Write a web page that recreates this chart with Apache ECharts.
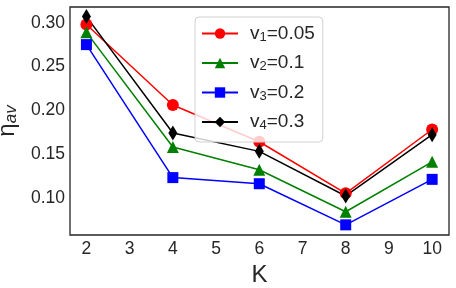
<!DOCTYPE html>
<html><head><meta charset="utf-8">
<script src="https://cdn.jsdelivr.net/npm/echarts@6/dist/echarts.min.js"></script>
<style>html,body{margin:0;padding:0;background:#fff}#c{width:456px;height:288px}</style>
</head><body><div id="c"></div>
<script>
const K = [2, 4, 6, 8, 10];
const v1 = [0.298, 0.206, 0.164, 0.105, 0.178];
const v2 = [0.289, 0.158, 0.132, 0.084, 0.141];
const v3 = [0.275, 0.123, 0.116, 0.069, 0.121];
const v4 = [0.307, 0.174, 0.153, 0.102, 0.172];
const xTicks = [2, 3, 4, 5, 6, 7, 8, 9, 10];
const yTicks = [0.10, 0.15, 0.20, 0.25, 0.30];
const names = ['v1', 'v2', 'v3', 'v4'];
const labels = {v1: ['1', '0.05'], v2: ['2', '0.1'], v3: ['3', '0.2'], v4: ['4', '0.3']};

const font = 'Liberation Sans, Arial, sans-serif';
const txt = '#262626';
function mk(name, data, color, symbol, size) {
  return {
    name, type: 'line', data: data.map((y, i) => [K[i], y]),
    symbol, symbolSize: size, showSymbol: true,
    lineStyle: {color, width: 1.5}, itemStyle: {color},
    emphasis: {disabled: true}, animation: false
  };
}
const chart = echarts.init(document.getElementById('c'));
chart.setOption({
  animation: false,
  grid: {left: 70, right: 7, top: 7, bottom: 53, outerBoundsMode: 'none', containLabel: false,
    show: true, borderColor: '#262626', borderWidth: 1.3, backgroundColor: '#fff'},
  xAxis: {
    type: 'value', min: 1.62, max: 10.39,
    name: 'K', nameLocation: 'middle', nameGap: 24,
    nameTextStyle: {fontSize: 24, color: txt, fontFamily: font},
    axisLine: {show: false}, axisTick: {show: false}, splitLine: {show: false},
    axisLabel: {customValues: xTicks, fontSize: 17.5, color: txt, fontFamily: font, margin: 5,
      showMinLabel: true, showMaxLabel: true}
  },
  yAxis: {
    type: 'value', min: 0.0574, max: 0.318,
    name: '{e|η}{s|av}', nameLocation: 'middle', nameGap: 44, nameRotate: 90,
    nameTextStyle: {color: txt, fontFamily: font,
      rich: {e: {fontSize: 24, color: txt, fontFamily: font},
             s: {fontSize: 17, fontStyle: 'italic', color: txt, fontFamily: font, padding: [8, 0, 0, 0]}}},
    axisLine: {show: false}, axisTick: {show: false}, splitLine: {show: false},
    axisLabel: {customValues: yTicks, fontSize: 17.5, color: txt, fontFamily: font, margin: 5,
      formatter: v => v.toFixed(2)}
  },
  legend: {
    orient: 'vertical', left: 195, top: 17, data: names,
    itemWidth: 36, itemHeight: 13, itemGap: 10,
    padding: [7, 8, 10, 6],
    backgroundColor: 'rgba(255,255,255,0.8)', borderColor: '#d0d0d0', borderWidth: 1, borderRadius: 4,
    formatter: n => '{a|v}{s|' + labels[n][0] + '}{a|=' + labels[n][1] + '}',
    textStyle: {color: txt, fontFamily: font, fontSize: 19, padding: [0, 0, 0, 7],
      rich: {a: {fontSize: 19, color: txt, fontFamily: font},
             s: {fontSize: 13, color: txt, fontFamily: font, padding: [7, 0, 0, 0]}}},
    selectedMode: false
  },
  series: [
    mk('v1', v1, '#ff0000', 'circle', 12),
    mk('v2', v2, '#008000', 'triangle', 12),
    mk('v3', v3, '#0000ff', 'rect', 11),
    mk('v4', v4, '#000000', 'diamond', [9, 15])
  ]
});
</script></body></html>
